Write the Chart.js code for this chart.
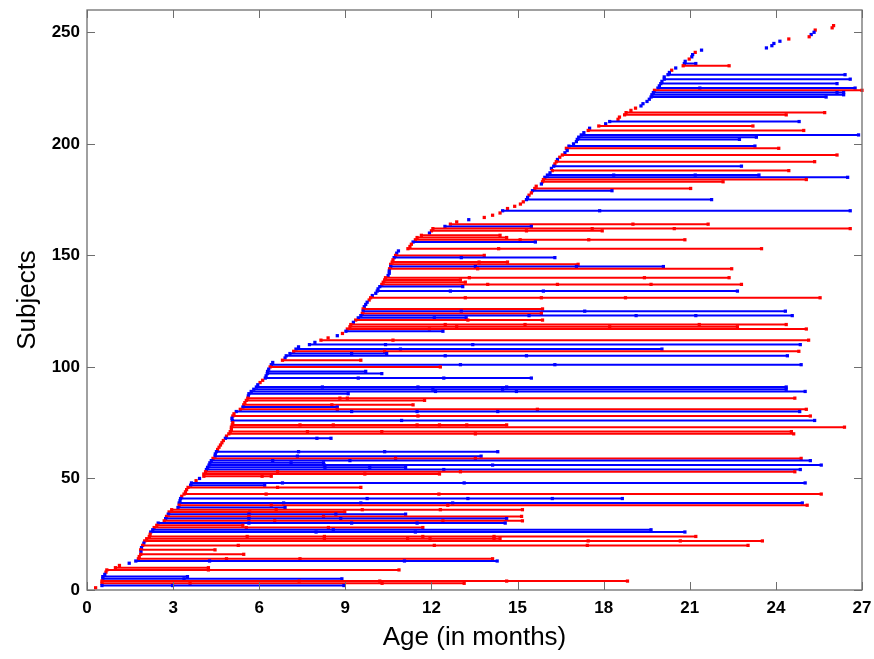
<!DOCTYPE html>
<html>
<head>
<meta charset="utf-8">
<script src="https://cdn.jsdelivr.net/npm/chart.js@4/dist/chart.umd.min.js"></script>
<style>
html,body{margin:0;padding:0;background:#fff;}
canvas{display:block;}
</style>
</head>
<body>
<canvas id="c" width="874" height="659"></canvas>
<script>
// Subject groups (R = red, B = blue), subjects 1..253 from bottom to top
const groups = [
'R','B','R','R','B','B','B','R','R','R', 'R','B','B','R','R','R','B','R','B','R',
'B','R','R','R','R','B','B','R','R','B', 'R','B','R','B','R','R','B','R','B','B',
'B','R','R','R','R','R','B','B','R','B', 'R','R','R','B','B','B','B','B','R','B',
'B','B','R','R','R','R','R','B','R','R', 'R','R','R','R','R','B','B','R','R','B',
'R','B','R','R','R','R','B','B','B','B', 'B','B','R','R','B','B','B','B','B','R',
'B','B','R','B','B','B','R','B','B','B', 'B','R','R','B','R','B','R','R','R','B',
'R','B','B','R','B','R','B','B','B','R', 'R','B','B','B','B','B','R','R','R','R',
'B','B','B','R','B','R','R','R','B','R', 'B','B','R','R','R','B','R','R','R','B',
'R','R','B','R','R','B','R','R','R','B', 'R','R','R','R','B','B','R','R','B','R',
'R','B','R','R','B','B','B','R','B','B', 'R','R','B','R','R','B','B','R','B','B',
'B','B','B','B','B','R','B','R','B','B', 'R','R','R','R','R','R','B','B','B','B',
'B','B','B','R','B','B','B','B','B','B', 'B','B','R','B','R','B','B','R','B','B',
'R','B','B','B','B','B','R','R','B','B', 'R','R','R'
];
// First visit age (months)
const startAge = [
0.30,0.52,0.52,0.52,0.55,0.55,0.62,0.66,0.69,0.99, 1.13,1.47,1.70,1.79,1.82,1.87,1.88,1.87,1.90,1.94,
1.98,2.01,2.08,2.17,2.20,2.22,2.29,2.34,2.43,2.48, 2.69,2.74,2.77,2.83,2.86,2.95,3.17,3.21,3.21,3.24,
3.26,3.30,3.38,3.43,3.47,3.52,3.61,3.64,3.80,3.92, 4.07,4.07,4.13,4.16,4.20,4.25,4.28,4.33,4.39,4.46,
4.47,4.51,4.55,4.60,4.65,4.70,4.75,4.82,4.86,4.94, 4.99,5.03,5.03,5.06,5.08,5.06,5.05,5.08,5.12,5.20,
5.34,5.43,5.46,5.50,5.55,5.60,5.62,5.64,5.72,5.81, 5.90,5.95,6.03,6.12,6.21,6.24,6.28,6.29,6.33,6.38,
6.42,6.47,6.81,6.90,6.94,7.07,7.20,7.28,7.37,7.75, 7.94,8.15,8.40,8.72,8.90,9.02,9.07,9.16,9.19,9.28,
9.36,9.45,9.54,9.59,9.62,9.62,9.66,9.71,9.76,9.83, 9.88,9.94,10.06,10.11,10.14,10.20,10.27,10.32,10.37,10.40,
10.49,10.53,10.53,10.54,10.58,10.58,10.63,10.66,10.70,10.75, 10.79,10.85,11.18,11.25,11.30,11.36,11.44,11.50,11.65,11.93,
12.00,12.05,12.47,12.66,12.88,13.30,13.84,14.13,14.39,14.48, 14.65,14.90,15.10,15.20,15.31,15.35,15.40,15.48,15.52,15.60,
15.65,15.83,15.87,15.90,15.95,16.04,16.13,16.21,16.18,16.26, 16.30,16.35,16.39,16.47,16.56,16.65,16.73,16.70,16.79,16.95,
17.05,17.08,17.13,17.22,17.31,17.46,17.51,17.83,18.07,18.21, 18.50,18.55,18.73,18.78,18.95,19.11,19.30,19.37,19.51,19.59,
19.65,19.68,19.73,19.77,19.89,19.94,19.99,20.03,20.11,20.11, 20.24,20.29,20.37,20.51,20.77,20.81,20.84,20.98,21.07,21.10,
21.19,21.41,23.67,23.86,23.93,24.14,24.45,25.16,25.23,25.33, 25.37,25.96,26.01
];
// Last visit age (months)
const endAge = [
0.30,8.95,13.14,18.83,8.88,3.50,0.62,0.66,10.87,4.23, 1.13,1.47,14.29,14.13,1.82,5.46,1.88,4.46,1.90,23.03,
1.98,23.53,14.39,21.21,2.20,20.83,19.65,11.70,5.43,14.57, 15.17,14.62,15.14,11.10,8.98,15.17,6.90,25.09,24.92,3.24,
18.65,3.30,25.58,3.43,3.47,9.54,6.19,25.02,3.80,3.92, 6.42,12.28,24.66,24.85,11.10,25.58,8.24,25.20,24.88,13.73,
4.47,14.31,4.55,4.60,4.65,4.70,4.75,8.50,4.86,24.62, 24.54,5.03,26.39,14.62,5.08,25.35,5.05,25.20,5.12,24.83,
25.06,8.72,11.36,5.50,11.76,24.66,5.62,9.10,25.02,24.36, 24.36,5.95,6.03,6.12,15.48,6.24,10.27,9.71,6.33,12.31,
24.88,6.47,9.54,6.90,24.40,10.44,24.80,20.03,7.37,24.85, 7.94,25.14,8.40,8.72,8.90,12.40,25.06,22.66,24.36,9.28,
15.87,13.21,24.57,15.83,24.33,15.87,9.66,9.71,9.76,9.83, 25.54,9.94,10.06,22.66,10.14,13.09,22.80,13.18,13.01,22.37,
10.49,10.53,10.53,22.46,20.08,17.11,14.65,10.66,16.30,13.84, 10.79,10.85,23.50,11.25,11.30,15.62,20.83,14.62,14.39,11.93,
17.95,26.59,15.48,21.64,12.88,13.30,13.84,14.13,14.39,26.59, 14.65,14.90,15.10,15.20,21.76,15.35,15.40,15.48,18.29,21.03,
15.65,15.83,22.16,25.06,26.50,23.41,16.13,24.45,16.18,22.80, 16.30,25.35,16.39,16.47,26.13,16.65,16.73,24.10,23.27,16.95,
17.05,22.73,23.32,26.88,17.31,24.97,17.51,23.20,18.07,24.81, 18.50,18.55,24.36,25.70,18.95,19.11,19.30,19.37,19.51,19.59,
25.75,26.36,26.36,27.00,26.76,19.94,26.13,20.03,26.59,20.11, 26.41,20.29,20.37,20.51,22.37,21.21,20.84,20.98,21.07,21.10,
21.19,21.41,23.67,23.86,23.93,24.14,24.45,25.16,25.23,25.33, 25.37,25.96,26.01
];
// Intermediate visit ages, keyed by subject number
const midVisits = {
2:[2.98],3:[3.59,10.28],4:[7.39,10.20,14.62],5:[3.38],9:[4.23],13:[4.27,11.06],14:[4.86,7.42],
20:[5.27,12.10,17.43],22:[17.46,20.67],23:[8.27,11.17,11.95,14.18],24:[5.58,8.27,11.70,14.18],
26:[7.98,11.44],27:[8.58],28:[5.55,8.41],30:[5.64,9.22,11.50],31:[6.54,12.40],32:[5.64,8.84],
33:[5.64,8.24],34:[5.64,8.67],35:[5.67],36:[6.59,9.59,12.31],38:[6.42,12.57],39:[6.85,9.54,12.74],
41:[9.76,13.27,16.21],43:[6.24,12.26],46:[6.64],48:[6.81,13.14],51:[6.10],52:[9.68],53:[6.64,13.01],
54:[12.43],55:[8.29,9.85],56:[8.27,14.13],57:[7.11],58:[6.47,9.16],59:[10.75,13.53],60:[7.33],
62:[7.37,10.37],68:[8.01],70:[13.53],71:[7.68,10.27],74:[7.42,8.58,11.50,12.28,13.23],76:[10.96],
78:[11.53],80:[9.22,11.50,14.31],81:[8.72,15.69],83:[8.53],86:[8.81,9.07],89:[12.14,14.96],
90:[12.05,14.48],91:[8.20,11.53,14.62],95:[9.45,12.43],101:[13.01,16.30],105:[12.48,15.31],
106:[9.22],107:[10.37],108:[10.92],110:[10.40,13.44],112:[10.66],117:[11.93],118:[12.88,18.21],
119:[12.48,15.26,21.33],121:[13.27],122:[12.10],123:[15.40,19.13,21.21],125:[13.04,17.34],
131:[13.18,15.83,18.76],134:[12.66,15.90],137:[13.96,16.39,19.65],140:[13.32,19.42],144:[13.61],
145:[13.53,17.05],147:[13.66],149:[13.04],153:[14.34],157:[15.09,17.48],161:[15.31],162:[17.60,20.46],
164:[19.02],170:[17.86],186:[18.35,21.19],223:[26.13],225:[21.35]
};
const xTicks = [0,3,6,9,12,15,18,21,24,27];
const yTicks = [0,50,100,150,200,250];

const colorOf = {R:'#ff0000', B:'#0000ff'};
const datasets = groups.map((g, i) => {
  const s = i + 1;
  const ages = [startAge[i]].concat(midVisits[s] || []);
  if (endAge[i] !== startAge[i]) ages.push(endAge[i]);
  return {
    data: ages.map(a => ({x: a, y: s})),
    showLine: true,
    borderColor: colorOf[g],
    backgroundColor: colorOf[g],
    borderWidth: 2,
    pointStyle: 'rect',
    pointRadius: 2.3,
    pointBorderWidth: 0,
    pointHoverRadius: 0,
    clip: 4
  };
});

const FRAME = '#6e6e6e';
const framePlugin = {
  id: 'frame',
  afterDatasetsDraw(chart) {
    const {ctx, chartArea: a, scales: {x, y}} = chart;
    ctx.save();
    ctx.strokeStyle = FRAME;
    ctx.lineWidth = 1;
    ctx.beginPath();
    xTicks.forEach(v => {
      const px = Math.round(x.getPixelForValue(v)) + 0.5;
      ctx.moveTo(px, a.bottom); ctx.lineTo(px, a.bottom - 8);
      ctx.moveTo(px, a.top); ctx.lineTo(px, a.top + 8);
    });
    yTicks.forEach(v => {
      const py = Math.round(y.getPixelForValue(v)) + 0.5;
      ctx.moveTo(a.left, py); ctx.lineTo(a.left + 8, py);
      ctx.moveTo(a.right, py); ctx.lineTo(a.right - 8, py);
    });
    ctx.stroke();
    ctx.lineWidth = 1.3;
    ctx.strokeRect(a.left, a.top, a.right - a.left, a.bottom - a.top);
    ctx.restore();
  }
};

const FONT = "'Liberation Sans', Arial, Helvetica, sans-serif";
new Chart(document.getElementById('c'), {
  type: 'scatter',
  data: {datasets},
  options: {
    responsive: false,
    animation: false,
    events: [],
    layout: {padding: {top: 10, right: 12, left: 0, bottom: 0}},
    plugins: {legend: {display: false}, tooltip: {enabled: false}},
    scales: {
      x: {
        type: 'linear', min: 0, max: 27,
        afterBuildTicks: s => { s.ticks = xTicks.map(v => ({value: v})); },
        afterFit: s => { s.height = 69; s.paddingLeft = 0; s.paddingRight = 0; },
        grid: {display: false, drawTicks: false},
        border: {display: false},
        ticks: {color: '#000', padding: 8, font: {family: FONT, size: 17, weight: 'bold'}, maxRotation: 0, autoSkip: false},
        title: {display: true, text: 'Age (in months)', color: '#000', padding: 0,
                font: {family: FONT, size: 26, lineHeight: 1.62}}
      },
      y: {
        type: 'linear', min: 0, max: 260,
        afterBuildTicks: s => { s.ticks = yTicks.map(v => ({value: v})); },
        afterFit: s => { s.width = 87; s.paddingTop = 0; s.paddingBottom = 0; },
        grid: {display: false, drawTicks: false},
        border: {display: false},
        ticks: {color: '#000', padding: 7, font: {family: FONT, size: 17, weight: 'bold'}, autoSkip: false},
        title: {display: true, text: 'Subjects', color: '#000', padding: 0,
                font: {family: FONT, size: 26, lineHeight: 2.15}}
      }
    }
  },
  plugins: [framePlugin]
});
</script>
</body>
</html>
